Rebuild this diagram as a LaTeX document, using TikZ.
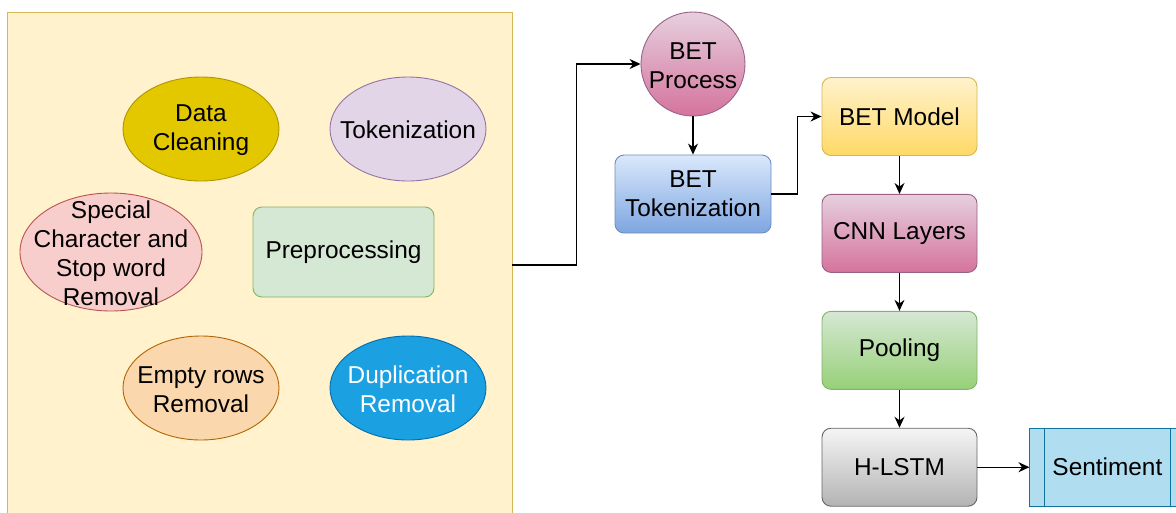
\documentclass[tikz,border=0pt]{standalone}
\usepackage{fontspec}
\setmainfont{Liberation Sans}
\usetikzlibrary{arrows.meta, positioning, shapes.geometric}
\usepackage{xcolor}

\definecolor{stagefill}{HTML}{FFF2CC}
\definecolor{stageline}{HTML}{D6B656}
\definecolor{cleanfill}{HTML}{E3C800}
\definecolor{cleanline}{HTML}{B09500}
\definecolor{tokfill}{HTML}{E1D5E7}
\definecolor{tokline}{HTML}{9673A6}
\definecolor{specfill}{HTML}{F8CECC}
\definecolor{specline}{HTML}{B85450}
\definecolor{prepfill}{HTML}{D5E8D4}
\definecolor{prepline}{HTML}{82B366}
\definecolor{emptyfill}{HTML}{FAD7AC}
\definecolor{emptyline}{HTML}{B46504}
\definecolor{dupfill}{HTML}{1BA1E2}
\definecolor{dupline}{HTML}{006EAF}
\definecolor{pinktop}{HTML}{E6D0DE}
\definecolor{pinkbot}{HTML}{D5739D}
\definecolor{pinkline}{HTML}{996185}
\definecolor{bluetop}{HTML}{DAE8FC}
\definecolor{bluebot}{HTML}{7EA6E0}
\definecolor{blueline}{HTML}{6C8EBF}
\definecolor{yellowbot}{HTML}{FFD966}
\definecolor{greenbot}{HTML}{97D077}
\definecolor{greytop}{HTML}{F5F5F5}
\definecolor{greybot}{HTML}{B3B3B3}
\definecolor{greyline}{HTML}{666666}
\definecolor{sentfill}{HTML}{B1DDF0}
\definecolor{sentline}{HTML}{10739E}

\begin{document}
\begin{tikzpicture}[
  x=1pt, y=-1pt,
  every node/.style = {font=\fontsize{24.4}{29}\selectfont, align=center},
  bubble/.style = {ellipse, draw, line width=0.9pt, minimum width=156pt, minimum height=104pt, inner sep=0pt},
  box/.style = {draw, line width=0.9pt, rounded corners=9pt, minimum width=155pt, minimum height=78pt},
  arrow/.style = {line width=1.2pt, -{Stealth[length=11pt, width=10pt]}},
  node distance=38pt and 52pt
]
  \clip (0,0) rectangle (1176,512);

  % ======================================================
  % Preprocessing stage (left panel)
  % ======================================================
  \node[draw=stageline, fill=stagefill, line width=0.9pt, minimum width=505pt, minimum height=506pt] (stage) at (259.5,265) {};

  \node[bubble, draw=cleanline, fill=cleanfill, label={[yshift=-1.5pt]center:Data\\Cleaning}] (clean) at (201,129) {};
  \node[bubble, draw=tokline, fill=tokfill, label={[yshift=-1pt]center:Tokenization}] (tok) at (408,129) {};
  \node[bubble, draw=specline, fill=specfill, minimum width=182pt, minimum height=118pt,
        label={[yshift=-1.5pt]center:Special\\Character and\\Stop word\\Removal}] (spec) at (111,252) {};
  \node[box, draw=prepline, fill=prepfill, minimum width=181pt, minimum height=90pt] (prep) at (343.5,252) {Preprocessing};
  \node[bubble, draw=emptyline, fill=emptyfill, label={[yshift=-1.5pt]center:Empty rows\\Removal}] (empty) at (201,388) {};
  \node[bubble, draw=dupline, fill=dupfill, label={[text=white, yshift=-1.5pt]center:Duplication\\Removal}] (dup) at (408,388) {};

  % ======================================================
  % BET branch
  % ======================================================
  \node[circle, draw=pinkline, line width=0.9pt, top color=pinktop, bottom color=pinkbot,
        minimum size=104pt, inner sep=0pt, label={[yshift=-1.5pt]center:BET\\Process}] (betproc) at (693,64) {};
  \node[box, draw=blueline, top color=bluetop, bottom color=bluebot, minimum width=156pt] (bettok) at (693,194) {BET\\Tokenization};

  % model column
  \node[box, draw=stageline, top color=stagefill, bottom color=yellowbot] (betmodel) at (899.5,116.5) {BET Model};
  \node[box, draw=pinkline, top color=pinktop, bottom color=pinkbot, below=of betmodel] (cnn) {CNN Layers};
  \node[box, draw=prepline, top color=prepfill, bottom color=greenbot, below=of cnn] (pool) {Pooling};
  \node[box, draw=greyline, top color=greytop, bottom color=greybot, below=of pool] (hlstm) {H-LSTM};
  \node[draw=sentline, fill=sentfill, line width=0.9pt, minimum width=155pt, minimum height=78pt, right=of hlstm] (sent) {Sentiment};
  \draw[sentline, line width=0.9pt] ([xshift=15pt]sent.north west) -- ([xshift=15pt]sent.south west)
                                    ([xshift=-15pt]sent.north east) -- ([xshift=-15pt]sent.south east);

  % stage -> BET process
  \draw[arrow] (stage.east) -- ++(64,0) |- (betproc.west);

  % BET process -> tokenization
  \draw[arrow] (betproc.south) -- (bettok.north);

  % tokenization -> model
  \draw[arrow] (bettok.east) -- ++(26,0) |- (betmodel.west);

  % model column
  \draw[arrow] (betmodel.south) -- (cnn.north);
  \draw[arrow] (cnn.south) -- (pool.north);
  \draw[arrow] (pool.south) -- (hlstm.north);
  \draw[arrow] (hlstm.east) -- (sent.west);

\end{tikzpicture}
\end{document}
